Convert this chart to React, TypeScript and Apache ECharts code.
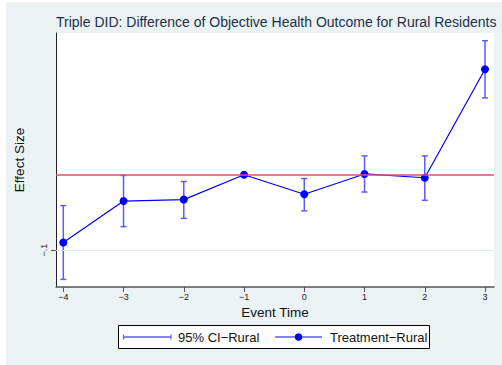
import React, { useEffect, useRef } from "react";
import * as echarts from "echarts";

// Event-study estimates, rural residents
const eventTimes = [-4, -3, -2, -1, 0, 1, 2, 3];
const estimates = [-0.09, -0.035, -0.033, 0, -0.026, 0.001, -0.004, 0.14];
const ciLower = [-0.139, -0.069, -0.058, null, -0.048, -0.023, -0.034, 0.102];
const ciUpper = [-0.041, -0.001, -0.009, null, -0.005, 0.025, 0.025, 0.178];
const xTicks = [-4, -3, -2, -1, 0, 1, 2, 3];
const yTicks = [-0.1];

const FONT = "'Liberation Sans', Arial, Helvetica, sans-serif";
const CI_COLOR = "#5b5bff";
const LINE_COLOR = "#0000ff";

const fmt = (v: number) => {
  const s = String(v).replace(/^(-?)0\./, "$1.");
  return s.replace("-", "\u2212");
};

export default function App() {
  const ref = useRef<HTMLDivElement>(null);

  useEffect(() => {
    document.body.style.margin = "0";
    const chart = echarts.init(ref.current!, null, { renderer: "svg" });

    const ciData = eventTimes
      .map((t, i) => [t, ciLower[i], ciUpper[i]])
      .filter((d) => d[1] !== null && d[2] !== null);

    chart.setOption({
      animation: false,
      textStyle: { fontFamily: FONT },
      graphic: [
        {
          type: "rect",
          z: -10,
          shape: { x: 6, y: 2, width: 496, height: 363 },
          style: { fill: "#EAF2F3" },
        },
        {
          type: "text",
          x: 56,
          y: 22,
          style: {
            text: "Triple DID: Difference of Objective Health Outcome for Rural Residents",
            font: `14px ${FONT}`,
            fill: "#1e2f4d",
            verticalAlign: "middle",
          },
        },
        // legend box
        {
          type: "rect",
          shape: { x: 118.5, y: 325.5, width: 311, height: 23 },
          style: { fill: "#ffffff", stroke: "#000000", lineWidth: 1 },
        },
        {
          type: "line",
          shape: { x1: 123, y1: 337, x2: 171, y2: 337 },
          style: { stroke: CI_COLOR, lineWidth: 1.5 },
        },
        {
          type: "line",
          shape: { x1: 123.5, y1: 334.5, x2: 123.5, y2: 339.5 },
          style: { stroke: CI_COLOR, lineWidth: 1.2 },
        },
        {
          type: "line",
          shape: { x1: 171, y1: 334.5, x2: 171, y2: 339.5 },
          style: { stroke: CI_COLOR, lineWidth: 1.2 },
        },
        {
          type: "text",
          x: 178,
          y: 337,
          style: { text: "95% CI\u2212Rural", font: `13px ${FONT}`, fill: "#111", verticalAlign: "middle" },
        },
        {
          type: "line",
          shape: { x1: 275, y1: 337, x2: 322, y2: 337 },
          style: { stroke: CI_COLOR, lineWidth: 1.5 },
        },
        {
          type: "circle",
          shape: { cx: 298.5, cy: 337, r: 3.8 },
          style: { fill: LINE_COLOR },
        },
        {
          type: "text",
          x: 330,
          y: 337,
          style: { text: "Treatment\u2212Rural", font: `13px ${FONT}`, fill: "#111", verticalAlign: "middle" },
        },
      ],
      grid: {
        left: 56,
        top: 33,
        right: 8,
        bottom: 78,
        show: true,
        backgroundColor: "#ffffff",
        borderWidth: 0,
      },
      xAxis: {
        type: "value",
        min: -4.121,
        max: 3.149,
        name: "Event Time",
        nameLocation: "middle",
        nameGap: 17,
        nameTextStyle: { fontSize: 13.5, color: "#111", fontFamily: FONT },
        axisLine: { show: true, onZero: false, lineStyle: { color: "#555", width: 1.5 } },
        axisTick: {
          show: true,
          length: 5,
          customValues: xTicks,
          lineStyle: { color: "#555", width: 1 },
        },
        axisLabel: {
          customValues: xTicks,
          fontSize: 9,
          color: "#222",
          margin: 5,
          formatter: (v: number) => fmt(v),
        },
        splitLine: { show: false },
      },
      yAxis: {
        type: "value",
        min: -0.1491,
        max: 0.1882,
        name: "Effect Size",
        nameLocation: "middle",
        nameGap: 30,
        nameTextStyle: { fontSize: 13.5, color: "#111", fontFamily: FONT },
        axisLine: { show: true, onZero: false, lineStyle: { color: "#222", width: 1 } },
        axisTick: {
          show: true,
          length: 5,
          customValues: yTicks,
          lineStyle: { color: "#555", width: 1 },
        },
        axisLabel: {
          customValues: yTicks,
          fontSize: 9,
          color: "#222",
          rotate: 90,
          margin: 8,
          formatter: (v: number) => fmt(v),
        },
        splitLine: { show: false },
      },
      series: [
        {
          type: "custom",
          name: "95% CI-Rural",
          z: 2,
          data: ciData,
          encode: { x: 0, y: [1, 2] },
          renderItem: (params: any, api: any) => {
            const x = api.value(0);
            const lo = api.coord([x, api.value(1)]);
            const hi = api.coord([x, api.value(2)]);
            const cap = 3;
            const style = { stroke: CI_COLOR, lineWidth: 1.5 };
            return {
              type: "group",
              children: [
                { type: "line", shape: { x1: lo[0], y1: lo[1], x2: hi[0], y2: hi[1] }, style },
                { type: "line", shape: { x1: lo[0] - cap, y1: lo[1], x2: lo[0] + cap, y2: lo[1] }, style },
                { type: "line", shape: { x1: hi[0] - cap, y1: hi[1], x2: hi[0] + cap, y2: hi[1] }, style },
              ],
            };
          },
        },
        {
          type: "line",
          name: "Treatment-Rural",
          z: 3,
          data: eventTimes.map((t, i) => [t, estimates[i]]),
          symbol: "circle",
          symbolSize: 8,
          itemStyle: { color: LINE_COLOR },
          lineStyle: { color: LINE_COLOR, width: 1.2 },
          markLine: {
            silent: true,
            symbol: "none",
            label: { show: false },
            data: [
              { yAxis: -0.1, lineStyle: { color: "#E2EBEB", width: 1, type: "solid" } },
              { yAxis: 0, lineStyle: { color: "#D9546E", width: 1.5, type: "solid" } },
            ],
          },
        },
      ],
    });

    return () => chart.dispose();
  }, []);

  return <div ref={ref} style={{ width: 502, height: 365 }} />;
}
